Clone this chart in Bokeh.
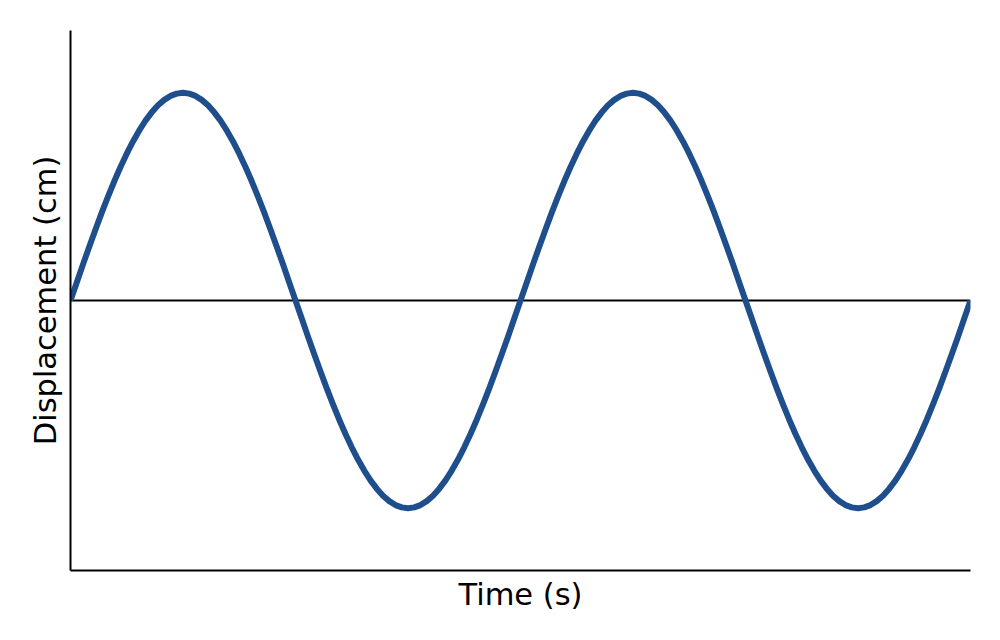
from bokeh.plotting import figure
from bokeh.models import Range1d, FixedTicker
from bokeh.embed import file_html
from bokeh.resources import INLINE

# Time samples (s) and displacement (cm)
time = [0.00, 0.05, 0.10, 0.15, 0.20, 0.25, 0.30, 0.35, 0.40, 0.45,
        0.50, 0.55, 0.60, 0.65, 0.70, 0.75, 0.80, 0.85, 0.90, 0.95,
        1.00, 1.05, 1.10, 1.15, 1.20, 1.25, 1.30, 1.35, 1.40, 1.45,
        1.50, 1.55, 1.60, 1.65, 1.70, 1.75, 1.80, 1.85, 1.90, 1.95,
        2.00, 2.05, 2.10, 2.15, 2.20, 2.25, 2.30, 2.35, 2.40, 2.45,
        2.50, 2.55, 2.60, 2.65, 2.70, 2.75, 2.80, 2.85, 2.90, 2.95,
        3.00, 3.05, 3.10, 3.15, 3.20, 3.25, 3.30, 3.35, 3.40, 3.45,
        3.50, 3.55, 3.60, 3.65, 3.70, 3.75, 3.80, 3.85, 3.90, 3.95,
        4.00, 4.05, 4.10, 4.15, 4.20, 4.25, 4.30, 4.35, 4.40, 4.45,
        4.50, 4.55, 4.60, 4.65, 4.70, 4.75, 4.80, 4.85, 4.90, 4.95,
        5.00, 5.05, 5.10, 5.15, 5.20, 5.25, 5.30, 5.35, 5.40, 5.45,
        5.50, 5.55, 5.60, 5.65, 5.70, 5.75, 5.80, 5.85, 5.90, 5.95,
        6.00, 6.05, 6.10, 6.15, 6.20, 6.25, 6.30, 6.35, 6.40, 6.45,
        6.50, 6.55, 6.60, 6.65, 6.70, 6.75, 6.80, 6.85, 6.90, 6.95,
        7.00, 7.05, 7.10, 7.15, 7.20]
displacement = [
    0.000, 0.087, 0.174, 0.259, 0.342, 0.423, 0.500, 0.574, 0.643, 0.707,
    0.766, 0.819, 0.866, 0.906, 0.940, 0.966, 0.985, 0.996, 1.000,
    0.996, 0.985, 0.966, 0.940, 0.906, 0.866, 0.819, 0.766, 0.707, 0.643,
    0.574, 0.500, 0.423, 0.342, 0.259, 0.174, 0.087, 0.000,
    -0.087, -0.174, -0.259, -0.342, -0.423, -0.500, -0.574, -0.643, -0.707,
    -0.766, -0.819, -0.866, -0.906, -0.940, -0.966, -0.985, -0.996, -1.000,
    -0.996, -0.985, -0.966, -0.940, -0.906, -0.866, -0.819, -0.766, -0.707,
    -0.643, -0.574, -0.500, -0.423, -0.342, -0.259, -0.174, -0.087, 0.000,
    0.087, 0.174, 0.259, 0.342, 0.423, 0.500, 0.574, 0.643, 0.707,
    0.766, 0.819, 0.866, 0.906, 0.940, 0.966, 0.985, 0.996, 1.000,
    0.996, 0.985, 0.966, 0.940, 0.906, 0.866, 0.819, 0.766, 0.707, 0.643,
    0.574, 0.500, 0.423, 0.342, 0.259, 0.174, 0.087, 0.000,
    -0.087, -0.174, -0.259, -0.342, -0.423, -0.500, -0.574, -0.643, -0.707,
    -0.766, -0.819, -0.866, -0.906, -0.940, -0.966, -0.985, -0.996, -1.000,
    -0.996, -0.985, -0.966, -0.940, -0.906, -0.866, -0.819, -0.766, -0.707,
    -0.643, -0.574, -0.500, -0.423, -0.342, -0.259, -0.174, -0.087, 0.000]
baseline = [0.0, 0.0]

x_label = "Time (s)"
y_label = "Displacement (cm)"

p = figure(width=1000, height=640, output_backend="svg", toolbar_location=None,
           x_range=Range1d(time[0], time[-1]), y_range=Range1d(-1.3, 1.3),
           min_border_left=70, min_border_right=30, min_border_top=30, min_border_bottom=70,
           background_fill_color="white", border_fill_color="white")
p.outline_line_color = None
p.grid.visible = False

p.line([time[0], time[-1]], baseline, line_color="black", line_width=2)
p.line(time, displacement, line_color="#1f4e8c", line_width=6, line_join="round", line_cap="butt")

for ax in (p.xaxis[0], p.yaxis[0]):
    ax.ticker = FixedTicker(ticks=[])
    ax.major_tick_line_color = None
    ax.minor_tick_line_color = None
    ax.major_label_text_font_size = "0px"
    ax.axis_line_color = "black"
    ax.axis_line_width = 2
    ax.axis_label_text_font = "DejaVu Sans"
    ax.axis_label_text_font_size = "30.5px"
    ax.axis_label_text_font_style = "normal"
    ax.axis_label_text_color = "black"

p.xaxis.axis_label = x_label
p.yaxis.axis_label = y_label
p.xaxis.axis_label_standoff = 6
p.yaxis.axis_label_standoff = 8

open("out.html", "w").write(file_html(p, INLINE))
